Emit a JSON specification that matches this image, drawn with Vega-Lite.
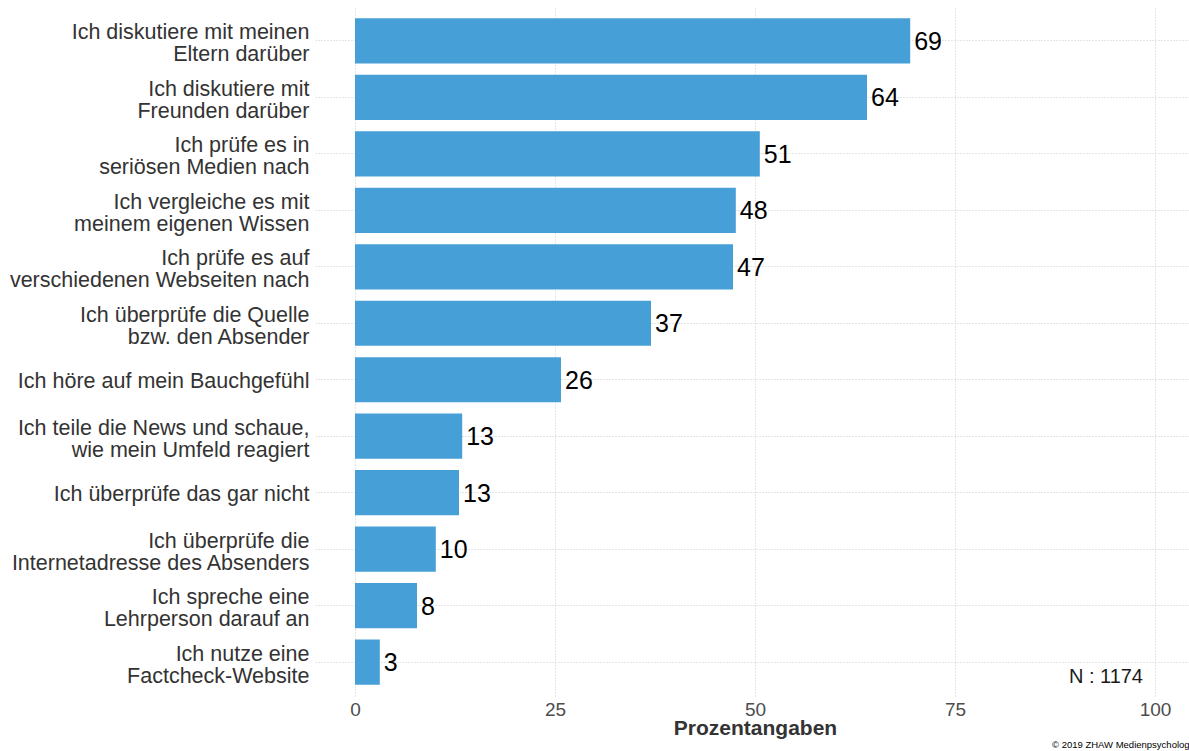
{
  "$schema": "https://vega.github.io/schema/vega-lite/v6.json",
  "autosize": {"type": "none"},
  "padding": {"left": 315, "top": 7, "right": 0, "bottom": 55},
  "width": 874,
  "height": 689,
  "background": "white",
  "config": {"view": {"stroke": null}, "font": "Liberation Sans"},
  "title": {
    "text": "© 2019 ZHAW Medienpsychologie",
    "orient": "bottom",
    "anchor": "end",
    "frame": "group",
    "fontSize": 9.5,
    "fontWeight": "normal",
    "font": "Liberation Sans",
    "color": "#000000",
    "offset": 2,
    "dx": 8
  },
  "data": {
    "values": [
      {"label": "Ich diskutiere mit meinen|Eltern darüber", "value": 69.4},
      {"label": "Ich diskutiere mit|Freunden darüber", "value": 64.0},
      {"label": "Ich prüfe es in|seriösen Medien nach", "value": 50.6},
      {"label": "Ich vergleiche es mit|meinem eigenen Wissen", "value": 47.6},
      {"label": "Ich prüfe es auf|verschiedenen Webseiten nach", "value": 47.25},
      {"label": "Ich überprüfe die Quelle|bzw. den Absender", "value": 37.0},
      {"label": "Ich höre auf mein Bauchgefühl", "value": 25.75},
      {"label": "Ich teile die News und schaue,|wie mein Umfeld reagiert", "value": 13.4},
      {"label": "Ich überprüfe das gar nicht", "value": 13.0},
      {"label": "Ich überprüfe die|Internetadresse des Absenders", "value": 10.1},
      {"label": "Ich spreche eine|Lehrperson darauf an", "value": 7.75},
      {"label": "Ich nutze eine|Factcheck-Website", "value": 3.1}
    ]
  },
  "encoding": {
    "y": {
      "field": "label",
      "type": "nominal",
      "sort": null,
      "scale": {"paddingInner": 0.2, "paddingOuter": 0.2},
      "axis": {
        "title": null,
        "domain": false,
        "ticks": false,
        "grid": true,
        "bandPosition": 0.5,
        "gridColor": "#cccccc",
        "gridDash": [1, 2],
        "gridWidth": 1,
        "labelPadding": 6,
        "labelFontSize": 21.5,
        "labelFont": "Liberation Sans",
        "labelColor": "#333333",
        "labelLimit": 0,
        "labelLineHeight": 22,
        "labelOffset": {"condition": {"test": "indexof(datum.value, '|') >= 0", "value": -7.5}, "value": 2},
        "labelExpr": "split(datum.label, '|')"
      }
    }
  },
  "layer": [
    {
      "mark": {"type": "bar", "color": "#469fd6"},
      "encoding": {
        "x": {
          "field": "value",
          "type": "quantitative",
          "scale": {"domain": [-5, 104.25], "nice": false, "zero": false},
          "axis": {
            "values": [0, 25, 50, 75, 100],
            "domain": false,
            "ticks": false,
            "grid": true,
            "gridColor": "#cccccc",
            "gridDash": [1, 2],
            "gridWidth": 1,
            "labelFontSize": 19,
            "labelFont": "Liberation Sans",
            "labelColor": "#4d4d4d",
            "labelPadding": 4,
            "title": "Prozentangaben",
            "titleFontSize": 21,
            "titleFont": "Liberation Sans",
            "titleFontWeight": "bold",
            "titleColor": "#333333",
            "titlePadding": -2,
            "titleX": 440
          }
        },
        "x2": {"datum": 0}
      }
    },
    {
      "mark": {"type": "text", "align": "left", "baseline": "middle", "dx": 4, "dy": 1, "fontSize": 25, "font": "Liberation Sans", "color": "#000000"},
      "encoding": {
        "x": {"field": "value", "type": "quantitative"},
        "text": {"field": "value", "type": "quantitative", "format": ".0f"}
      }
    },
    {
      "data": {"values": [{"note": "N : 1174"}]},
      "mark": {"type": "text", "align": "right", "baseline": "middle", "dx": -12, "dy": 15, "fontSize": 20, "font": "Liberation Sans", "color": "#1a1a1a"},
      "encoding": {
        "x": {"datum": 100, "type": "quantitative"},
        "y": {"datum": "Ich nutze eine|Factcheck-Website", "type": "nominal"},
        "text": {"field": "note", "type": "nominal"}
      }
    }
  ]
}
